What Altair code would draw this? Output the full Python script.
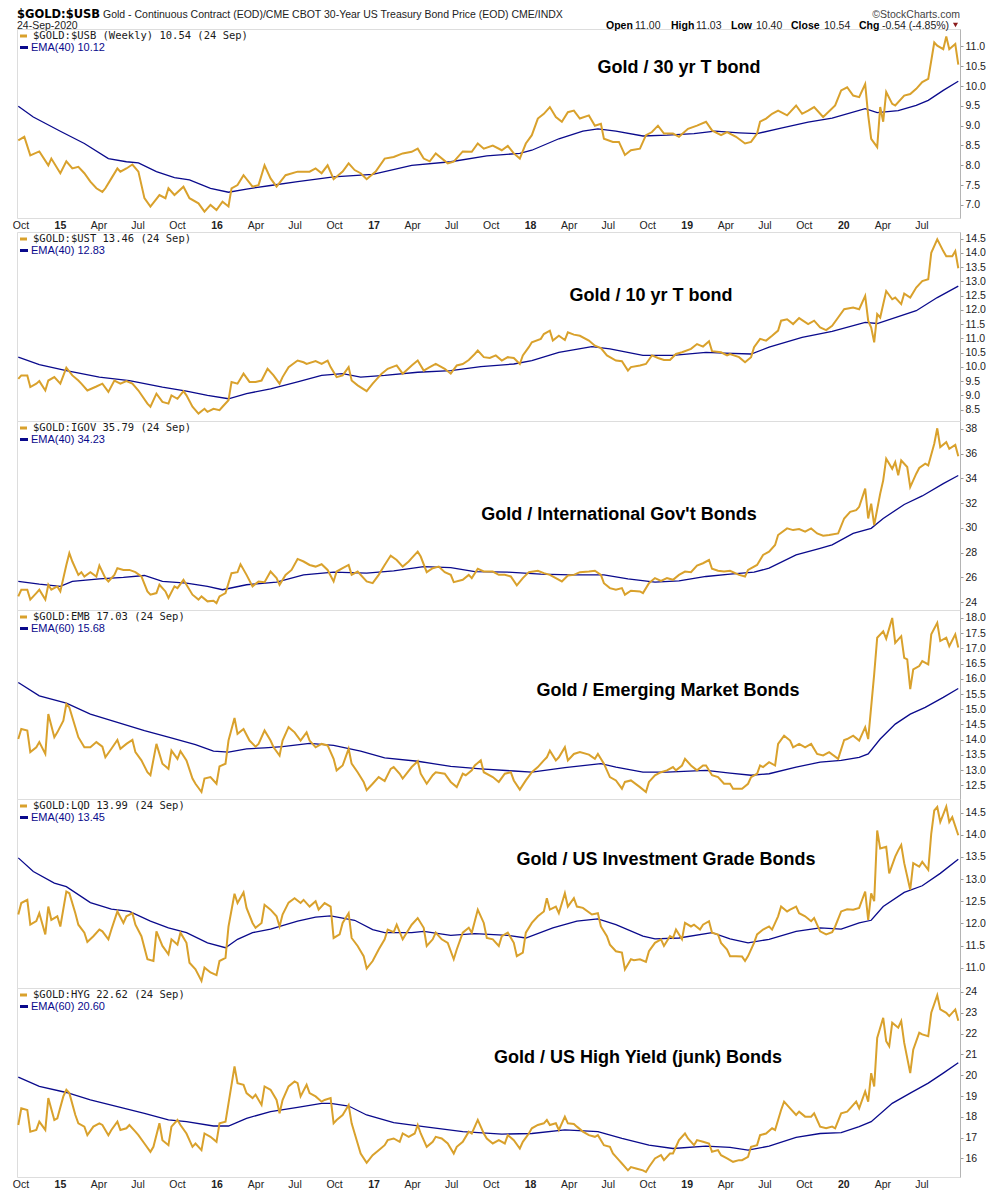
import altair as alt
import pandas as pd

START = "2014-09-26"   # first weekly bar; weeks below are counted from here

GOLD = "#d9a12c"
NAVY = "#0a0a8c"

# ---------------- Panel 1 : $GOLD:$USB ----------------
p1_gold_w = [0,2,4,7,10,11,14,16,18,20,22,24,26,28,29,31,33,34,36,38,40,42,44,47,49,50,52,55,57,60,62,64,66,68,70,71,73,75,78,80,82,84,86,89,93,97,99,101,103,105,108,110,112,114,116,119,122,125,128,131,133,135,137,139,143,145,148,151,153,155,158,161,163,165,167,169,171,173,175,177,179,181,183,185,187,190,192,194,195,198,200,202,204,207,209,211,213,215,218,220,223,226,229,231,234,236,239,242,244,246,247,249,251,253,256,259,261,263,265,268,272,274,276,278,280,282,283,284,286,287,288,289,291,292,295,297,299,301,303,305,306,308,309,310,312,313]
p1_gold_v = [8.63,8.72,8.25,8.35,8.0,8.17,7.8,8.1,7.92,7.96,7.8,7.59,7.42,7.33,7.42,7.67,7.92,7.84,7.92,8.02,7.84,7.17,6.96,7.25,7.17,7.42,7.25,7.46,7.17,7.04,6.83,7.0,6.87,7.08,6.96,7.42,7.5,7.75,7.46,7.5,8.0,7.67,7.46,7.75,7.84,7.84,7.92,7.8,8.0,7.65,7.84,8.05,7.88,7.8,7.65,7.84,8.17,8.21,8.3,8.34,8.42,8.17,8.1,8.3,8.05,8.09,8.35,8.34,8.55,8.42,8.5,8.38,8.49,8.3,8.17,8.55,8.76,9.18,9.3,9.47,9.22,9.1,9.34,9.38,9.18,9.26,9.0,9.05,8.67,8.59,8.59,8.26,8.38,8.42,8.76,8.84,9.0,8.8,8.8,8.72,8.92,9.0,9.1,8.88,8.76,8.84,8.72,8.55,8.59,8.8,9.1,9.18,9.3,9.38,9.26,9.51,9.3,9.38,9.47,9.22,9.51,9.89,9.97,9.76,9.72,10.05,9.26,8.67,8.46,9.47,9.1,9.85,9.55,9.51,9.76,9.8,9.93,10.1,10.18,11.1,11.02,10.93,11.25,10.93,11.06,10.54]
p1_ema_w = [0,5,14,22,30,36,40,46,52,57,64,70,76,84,93,105,118,131,144,156,167,171,180,188,193,199,208,216,225,232,240,246,254,263,271,282,286,293,299,303,308,313]
p1_ema_v = [9.49,9.22,8.86,8.55,8.17,8.09,8.06,7.84,7.69,7.63,7.42,7.32,7.4,7.49,7.59,7.71,7.77,8.0,8.09,8.24,8.3,8.38,8.67,8.86,8.92,8.86,8.74,8.76,8.8,8.86,8.82,8.8,8.94,9.09,9.19,9.43,9.33,9.38,9.51,9.64,9.89,10.12]

# ---------------- Panel 2 : $GOLD:$UST ----------------
p2_gold_w = [0,1,3,4,6,7,9,10,12,14,16,18,20,21,23,26,28,30,32,34,36,38,40,43,44,46,48,50,51,53,55,56,58,60,62,63,65,67,68,70,71,73,75,77,79,81,83,85,87,88,90,93,95,96,99,101,103,104,106,108,110,111,113,116,118,121,123,126,128,131,133,135,137,139,142,144,146,148,150,152,153,155,157,159,161,163,165,167,168,170,171,174,175,177,178,180,182,183,185,187,190,192,194,196,199,201,203,204,207,209,211,213,215,217,219,221,224,226,228,230,231,234,236,237,240,242,244,245,247,249,251,253,254,256,258,260,263,265,267,269,271,273,275,278,280,282,283,284,285,286,287,289,291,292,294,295,297,299,301,303,304,306,308,309,311,312,313]
p2_gold_v = [9.58,9.7,9.7,9.29,9.41,9.5,9.17,9.52,9.64,9.41,9.97,9.7,9.52,9.41,9.17,9.31,9.41,9.12,9.52,9.41,9.5,9.41,9.17,8.71,8.6,9.06,8.77,8.71,9.0,8.88,9.15,9.0,8.6,8.36,8.53,8.42,8.53,8.48,8.6,8.83,9.47,9.41,9.76,9.47,9.47,9.52,9.93,9.7,9.41,9.64,9.99,10.22,10.16,10.1,10.2,10.1,10.22,9.99,9.64,9.7,9.99,9.52,9.35,9.15,9.41,9.76,9.93,10.05,9.76,10.05,10.22,9.87,9.99,10.1,9.93,9.76,10.05,10.1,10.24,10.45,10.57,10.34,10.31,10.4,10.22,10.34,10.31,10.1,10.4,10.69,10.86,10.98,11.15,11.27,10.92,11.09,10.94,11.21,11.13,11.09,10.92,10.74,10.66,10.4,10.22,10.2,9.87,9.99,10.05,10.1,10.4,10.31,10.24,10.24,10.45,10.51,10.63,10.8,10.71,10.9,10.55,10.51,10.4,10.45,10.34,10.16,10.34,10.69,10.98,10.92,11.09,11.27,11.62,11.67,11.5,11.71,11.5,11.62,11.38,11.29,11.44,11.73,12.02,12.08,12.02,12.49,11.62,11.38,10.86,11.85,11.73,12.66,12.37,12.43,12.2,12.57,12.43,12.78,13.01,13.07,14.0,14.47,14.06,13.88,13.88,14.06,13.46]
p2_ema_w = [0,7,16,27,37,48,56,63,70,76,84,93,101,108,114,122,133,144,154,165,171,180,191,197,208,218,229,235,244,250,261,271,282,286,293,299,306,313]
p2_ema_v = [10.34,10.08,9.87,9.64,9.52,9.29,9.15,9.0,8.88,9.06,9.23,9.47,9.7,9.76,9.64,9.7,9.81,9.87,10.01,10.1,10.22,10.51,10.71,10.63,10.4,10.4,10.51,10.48,10.45,10.69,11.03,11.24,11.56,11.52,11.76,11.97,12.43,12.83]

# ---------------- Panel 3 : $GOLD:IGOV ----------------
p3_gold_w = [0,1,3,4,6,7,9,10,11,13,14,16,17,18,20,21,22,24,26,27,29,30,32,33,35,37,39,41,43,44,46,47,49,50,52,53,55,56,58,60,61,63,65,66,67,69,71,73,74,76,78,80,82,84,86,87,89,91,93,95,97,99,101,103,105,106,108,110,111,113,116,118,120,122,124,126,128,130,131,133,134,136,138,140,142,144,145,148,150,151,153,155,158,160,162,164,166,168,170,173,175,177,179,181,183,185,187,190,192,194,195,197,199,201,202,204,207,208,210,212,214,216,218,220,222,224,226,228,230,231,233,235,237,240,242,243,246,248,250,252,253,256,258,260,262,264,266,268,270,273,275,277,279,280,282,283,284,285,287,288,289,291,292,293,294,296,297,299,300,302,303,305,306,307,309,310,312,313]
p3_gold_v = [24.46,25.0,25.0,24.2,24.73,25.0,24.2,25.4,25.0,25.27,24.86,27.0,27.95,27.28,26.2,26.42,26.07,26.42,26.07,26.95,25.94,25.67,26.2,26.74,26.6,26.6,26.42,26.07,24.86,24.6,24.73,25.4,24.86,24.33,25.27,25.13,25.8,25.4,24.6,24.2,24.46,24.06,24.11,23.92,24.46,24.73,26.34,26.42,27.06,26.2,25.27,25.67,25.61,26.47,25.94,25.4,26.2,26.6,27.49,27.28,27.0,26.87,27.06,26.6,25.67,26.47,26.74,27.0,26.2,26.47,25.67,25.53,26.2,27.0,27.76,27.4,26.87,27.28,27.55,28.08,27.68,26.42,26.74,26.87,26.42,26.2,25.61,25.8,26.2,25.94,26.69,26.47,26.47,26.2,26.2,26.07,25.35,25.94,26.42,26.53,26.34,26.2,25.94,25.67,26.15,26.2,26.42,26.47,26.53,26.2,25.53,25.13,25.0,25.13,24.6,24.92,24.86,24.73,25.53,25.94,25.72,25.94,25.8,26.2,26.47,26.42,26.95,27.14,27.4,26.69,26.53,26.47,26.53,26.2,26.07,26.6,27.0,27.81,28.08,28.62,29.42,29.96,29.82,29.9,29.69,29.96,29.55,29.37,29.42,29.55,30.76,31.3,31.43,31.7,33.17,30.76,31.96,30.22,32.77,33.84,35.59,34.78,35.32,34.25,35.45,34.92,33.3,34.38,34.84,35.19,35.05,36.8,38.05,36.53,36.93,36.39,36.71,35.79]
p3_ema_w = [0,7,14,18,27,35,42,48,56,63,68,76,86,95,105,116,125,135,144,152,163,174,184,195,203,212,220,229,237,245,250,259,267,271,278,284,288,295,301,308,313]
p3_ema_v = [25.67,25.45,25.27,25.67,25.88,25.99,26.15,25.67,25.53,25.27,25.0,25.4,25.61,26.2,26.42,26.34,26.53,26.87,26.79,26.47,26.42,26.26,26.2,26.2,25.88,25.61,25.72,26.07,26.26,26.42,26.74,27.81,28.35,28.62,29.55,29.96,30.76,31.89,32.58,33.58,34.23]

# ---------------- Panel 4 : $GOLD:EMB ----------------
p4_gold_w = [0,1,3,4,6,7,9,10,12,13,15,16,17,19,20,22,24,26,28,29,31,33,34,36,38,39,41,43,44,46,48,50,51,53,54,56,58,59,61,62,64,66,67,69,70,72,73,75,77,79,80,82,84,85,87,88,90,92,94,96,97,99,101,103,105,106,108,110,111,113,115,116,118,120,122,124,125,127,128,131,133,134,136,138,139,142,144,146,148,149,151,152,154,155,158,160,162,164,165,167,169,171,173,175,176,177,179,180,182,183,185,187,190,192,193,195,197,199,201,202,204,207,209,210,212,214,216,218,219,221,222,224,226,228,229,231,233,235,237,238,241,243,244,246,247,248,250,252,253,255,257,258,260,262,264,266,268,270,273,275,276,278,280,282,283,285,286,288,289,291,292,294,295,296,297,298,300,301,303,304,306,307,309,310,312,313]
p4_gold_v = [14.02,14.35,14.3,13.59,13.75,13.92,13.53,14.84,14.08,14.24,14.62,15.17,15.06,14.41,14.08,13.75,13.75,13.92,13.77,13.42,13.7,13.99,13.7,13.86,13.99,13.59,13.32,12.93,12.83,13.86,13.21,13.04,13.64,13.37,13.62,13.32,12.72,12.55,12.28,12.72,12.77,12.55,13.12,13.21,13.97,14.71,14.19,14.35,13.97,13.77,13.86,14.3,13.97,13.75,13.48,13.97,14.41,14.24,13.97,14.24,13.97,13.75,13.86,13.81,13.37,12.99,13.15,13.7,13.21,12.93,12.61,12.34,12.55,12.77,12.64,13.04,13.1,12.88,12.72,13.1,13.29,12.88,12.55,12.83,12.93,12.88,12.61,12.44,12.88,12.83,12.99,13.15,13.32,12.93,12.77,12.61,12.88,12.93,12.66,12.36,12.66,12.93,13.1,13.32,13.42,13.64,13.32,13.42,13.75,13.32,13.53,13.59,13.51,13.37,13.53,13.21,12.77,12.66,12.39,12.61,12.66,12.44,12.28,12.61,12.83,12.93,12.99,13.1,12.99,13.15,13.37,13.15,12.99,13.15,13.15,12.83,12.77,12.55,12.55,12.39,12.39,12.55,12.77,12.88,13.15,13.1,13.26,13.15,13.86,14.13,13.97,13.75,13.86,13.75,13.86,13.53,13.48,13.59,13.37,13.99,14.02,14.13,13.97,14.41,14.02,16.15,17.35,17.56,17.32,18.0,17.18,17.4,16.69,16.64,15.66,16.31,16.42,16.58,16.47,17.46,17.84,17.24,17.35,17.07,17.46,17.03]
p4_ema_w = [0,7,16,24,33,42,50,59,65,70,76,82,88,97,105,114,122,133,144,154,165,171,182,194,199,208,216,229,237,244,250,259,267,274,280,283,287,292,297,302,308,313]
p4_ema_v = [15.88,15.44,15.2,14.84,14.57,14.3,14.08,13.84,13.62,13.59,13.7,13.73,13.77,13.88,13.81,13.62,13.4,13.29,13.12,13.04,12.97,12.93,13.08,13.21,13.1,12.93,12.93,12.99,12.9,12.83,12.88,13.1,13.26,13.32,13.42,13.53,14.02,14.51,14.84,15.06,15.39,15.68]

# ---------------- Panel 5 : $GOLD:LQD ----------------
p5_gold_w = [0,1,3,4,6,7,9,10,11,13,14,16,17,19,20,22,23,25,27,28,30,31,33,35,36,38,39,41,43,45,46,48,50,51,53,54,56,57,59,61,62,64,66,67,69,70,72,73,75,76,78,79,81,82,84,86,87,88,90,92,94,95,97,99,100,102,104,105,107,108,110,111,113,115,116,118,120,122,123,125,126,128,130,131,133,135,136,138,139,141,143,145,146,148,150,151,153,155,156,158,160,161,163,165,166,168,169,171,173,175,176,177,179,180,182,183,185,186,188,191,193,194,196,197,199,201,202,204,205,207,209,210,212,214,215,217,218,219,221,222,224,225,227,228,230,231,233,234,236,237,239,241,242,243,245,246,248,250,251,253,254,256,257,259,260,262,264,265,267,269,271,272,274,276,278,280,282,283,284,285,286,287,289,290,292,293,294,295,297,298,300,301,303,304,305,306,307,309,310,311,313]
p5_gold_v = [12.2,12.46,12.53,11.97,12.05,12.23,11.75,12.38,12.08,12.16,11.93,12.72,12.68,12.23,11.97,11.79,11.58,11.71,11.86,11.82,11.64,11.86,12.27,12.01,12.16,12.23,11.97,11.71,11.19,11.15,11.82,11.49,11.3,11.64,11.52,11.79,11.56,11.11,10.96,10.7,11.0,10.89,10.83,11.15,11.22,11.93,12.67,12.46,12.7,12.35,12.01,11.9,12.01,12.42,12.31,12.16,11.93,12.2,12.47,12.57,12.46,12.53,12.38,12.5,12.31,12.46,12.38,11.67,11.75,12.01,12.23,11.67,11.49,11.26,10.98,11.15,11.41,11.64,11.86,11.8,11.97,11.64,11.86,11.97,12.12,11.9,11.49,11.64,11.79,11.64,11.56,11.19,11.41,11.79,11.9,11.79,12.31,12.01,11.67,11.64,11.49,11.71,11.79,11.56,11.26,11.34,11.79,12.01,12.16,12.27,12.57,12.31,12.38,12.23,12.68,12.38,12.57,12.38,12.35,12.2,12.23,11.93,11.71,11.52,11.37,11.34,10.96,11.19,11.17,11.19,11.13,11.37,11.56,11.64,11.49,11.71,11.67,11.86,11.64,12.01,11.93,11.97,11.86,11.97,12.05,11.79,11.75,11.56,11.41,11.26,11.26,11.25,11.15,11.26,11.56,11.75,11.86,11.93,11.86,12.16,12.38,12.27,12.31,12.38,12.23,12.16,12.05,12.12,11.82,11.75,11.8,11.93,12.27,12.32,12.31,12.35,12.72,12.08,12.68,12.5,14.1,13.69,13.73,13.13,13.51,13.65,13.77,13.36,12.76,13.36,13.28,13.39,13.21,14.03,14.55,14.63,14.29,14.64,14.29,14.4,13.99]
p5_ema_w = [0,5,12,16,24,31,37,44,50,56,63,69,73,78,84,93,99,104,112,118,122,131,135,144,152,163,169,178,186,193,199,208,212,220,231,237,243,250,259,267,274,280,284,288,295,301,307,313]
p5_ema_v = [13.48,13.17,12.91,12.83,12.47,12.32,12.27,12.05,11.9,11.79,11.56,11.45,11.64,11.79,11.87,12.05,12.14,12.17,12.07,11.86,11.79,11.79,11.82,11.73,11.77,11.73,11.67,11.9,12.05,12.1,11.97,11.71,11.65,11.67,11.79,11.65,11.56,11.64,11.82,11.9,11.87,12.01,12.07,12.38,12.7,12.85,13.13,13.45]

# ---------------- Panel 6 : $GOLD:HYG ----------------
p6_gold_w = [0,1,3,4,6,7,9,10,12,13,15,16,17,19,20,22,23,25,27,28,30,31,33,34,36,37,39,40,42,44,45,47,48,50,51,53,54,56,58,59,61,62,64,66,67,69,70,72,73,75,76,78,79,81,82,84,86,87,88,90,92,93,94,96,97,99,101,102,104,105,106,108,110,111,113,114,116,118,120,122,123,125,127,128,130,132,133,134,136,138,139,141,143,145,146,148,150,151,153,155,156,158,160,162,163,165,167,168,170,171,173,175,176,177,179,180,182,183,185,186,188,190,192,193,195,197,198,200,201,203,204,206,208,209,210,212,214,215,217,218,220,222,223,225,226,228,230,231,233,234,236,238,240,241,243,244,246,247,249,251,252,254,255,257,259,260,262,264,265,267,269,271,272,274,276,277,279,280,282,283,284,285,286,288,289,290,291,293,294,295,297,298,300,301,303,304,306,307,309,310,312,313]
p6_gold_v = [17.61,18.41,18.33,17.29,17.37,17.77,17.37,18.9,17.85,17.93,18.98,19.3,19.14,18.09,17.69,17.53,17.12,17.53,17.69,17.61,17.12,17.37,17.77,17.37,17.45,17.61,17.29,17.12,16.72,16.32,16.56,17.69,16.88,16.64,17.53,17.85,17.61,17.2,16.56,16.72,16.4,17.2,17.04,16.8,17.69,17.77,18.65,20.42,19.62,19.54,19.14,18.9,19.06,18.57,19.46,19.3,18.81,18.17,18.81,19.46,19.7,19.62,18.98,19.54,19.14,18.98,18.73,18.81,18.9,17.69,17.85,18.09,18.57,17.69,16.72,16.24,15.79,16.16,16.4,16.64,16.88,16.96,16.8,17.2,17.04,17.2,17.61,17.2,16.56,16.8,17.04,16.96,16.72,16.24,16.56,16.8,17.29,17.2,17.85,17.2,16.96,16.72,16.88,16.72,17.12,16.88,16.48,16.8,17.2,17.45,17.61,17.69,17.85,17.61,17.69,17.37,18.01,17.69,17.66,17.53,17.29,17.12,17.04,17.12,16.64,16.56,16.24,15.92,15.76,15.43,15.59,15.51,15.43,15.35,15.59,16.0,16.16,15.92,16.24,16.24,16.88,17.2,16.96,16.64,16.88,16.8,16.72,16.32,16.4,16.16,16.0,15.84,15.92,15.92,16.08,16.56,16.64,17.12,17.2,17.45,17.37,18.33,18.73,18.41,18.09,18.25,18.01,18.01,18.17,17.53,17.45,17.53,17.45,18.17,18.25,18.41,18.73,18.41,19.22,18.73,20.1,19.46,21.79,22.76,21.63,21.39,22.52,22.28,22.6,21.55,20.1,21.23,22.04,21.96,21.87,23.0,23.84,23.16,23.0,22.84,23.16,22.62]
p6_ema_w = [0,7,16,24,33,42,50,56,65,70,76,84,93,101,104,110,116,125,135,148,161,171,182,193,201,210,218,229,237,243,250,259,267,274,280,284,291,297,303,308,313]
p6_ema_v = [19.91,19.46,19.17,18.81,18.49,18.17,17.85,17.77,17.56,17.56,17.93,18.25,18.46,18.65,18.65,18.52,18.09,17.72,17.53,17.29,17.17,17.2,17.37,17.29,16.96,16.64,16.48,16.59,16.53,16.4,16.59,17.01,17.2,17.24,17.53,17.77,18.65,19.14,19.62,20.1,20.6]

# ---------------- text ----------------
p1_ticks = [7.0, 7.5, 8.0, 8.5, 9.0, 9.5, 10.0, 10.5, 11.0]
p2_ticks = [8.5, 9.0, 9.5, 10.0, 10.5, 11.0, 11.5, 12.0, 12.5, 13.0, 13.5, 14.0, 14.5]
p3_ticks = [24, 26, 28, 30, 32, 34, 36, 38]
p4_ticks = [12.5, 13.0, 13.5, 14.0, 14.5, 15.0, 15.5, 16.0, 16.5, 17.0, 17.5, 18.0]
p5_ticks = [11.0, 11.5, 12.0, 12.5, 13.0, 13.5, 14.0, 14.5]
p6_ticks = [16, 17, 18, 19, 20, 21, 22, 23, 24]

legend_main = ["$GOLD:$USB (Weekly) 10.54 (24 Sep)", "$GOLD:$UST 13.46 (24 Sep)",
               "$GOLD:IGOV 35.79 (24 Sep)", "$GOLD:EMB 17.03 (24 Sep)",
               "$GOLD:LQD 13.99 (24 Sep)", "$GOLD:HYG 22.62 (24 Sep)"]
legend_ema = ["EMA(40) 10.12", "EMA(40) 12.83", "EMA(40) 34.23",
              "EMA(60) 15.68", "EMA(40) 13.45", "EMA(60) 20.60"]
panel_titles = ["Gold / 30 yr T bond", "Gold / 10 yr T bond", "Gold / International Gov't Bonds",
                "Gold / Emerging Market Bonds", "Gold / US Investment Grade Bonds",
                "Gold / US High Yield (junk) Bonds"]

W = 943
H = 189
SANS = "Liberation Sans, Arial, sans-serif"

start = pd.Timestamp(START)


def frame(weeks, vals):
    dates = [start + pd.Timedelta(days=7 * w) for w in weeks]
    return pd.DataFrame({"date": dates, "value": vals})


x_domain = [alt.DateTime(year=2014, month=9, date=23), alt.DateTime(year=2020, month=9, date=29)]
x_vals = []
for yr in range(2014, 2021):
    for m in (1, 4, 7, 10):
        if (yr == 2014 and m < 10) or (yr == 2020 and m > 7):
            continue
        x_vals.append(alt.DateTime(year=yr, month=m, date=1))


def x_enc(show_labels):
    if show_labels:
        ax = alt.Axis(values=x_vals, title=None, grid=False, ticks=False, domain=False,
                      labelExpr="month(datum.value) == 0 ? timeFormat(datum.value, '%y') : timeFormat(datum.value, '%b')",
                      labelFontWeight=alt.condition("month(datum.value) == 0", alt.value("bold"), alt.value("normal")),
                      labelFontSize=10.5, labelPadding=2, labelFlush=False, labelOverlap=False,
                      labelColor="#222222", labelFont=SANS)
    else:
        ax = None
    return alt.X("date:T", scale=alt.Scale(domain=x_domain), axis=ax)


def panel(gw, gv, ew, ev, dom, ticks, fmt, leg1, leg2, title, tx, ty, show_x):
    y = alt.Y("value:Q", scale=alt.Scale(domain=dom, zero=False, nice=False),
              axis=alt.Axis(orient="right", values=ticks, format=fmt, title=None, grid=False,
                            tickSize=3, labelPadding=2, labelOverlap=False, labelFontSize=10.5,
                            labelColor="#222222", labelFont=SANS, domainColor="#b4b4b4",
                            tickColor="#9a9a9a"))
    gold = alt.Chart(frame(gw, gv)).mark_line(color=GOLD, strokeWidth=2.0).encode(x=x_enc(show_x), y=y)
    ema = alt.Chart(frame(ew, ev)).mark_line(color=NAVY, strokeWidth=1.3).encode(x=x_enc(show_x), y=y)
    one = pd.DataFrame({"k": [0]})
    sw1 = alt.Chart(one).mark_rule(color=GOLD, strokeWidth=3).encode(
        x=alt.value(3), x2=alt.value(10), y=alt.value(7))
    sw2 = alt.Chart(one).mark_rule(color=NAVY, strokeWidth=3).encode(
        x=alt.value(3), x2=alt.value(11), y=alt.value(18.5))
    t1 = alt.Chart(one).mark_text(text=leg1, align="left", baseline="middle", fontSize=10.5,
                                  font="DejaVu Sans Mono", color="#1a1a1a").encode(
        x=alt.value(16), y=alt.value(7))
    t2 = alt.Chart(one).mark_text(text=leg2, align="left", baseline="middle", fontSize=11,
                                  font="Liberation Sans Narrow, Arial Narrow, Liberation Sans",
                                  color=NAVY).encode(x=alt.value(14), y=alt.value(18.5))
    big = alt.Chart(one).mark_text(text=title, align="center", baseline="middle", fontSize=18,
                                   fontWeight="bold", font=SANS, color="#000000").encode(
        x=alt.value(tx), y=alt.value(ty))
    return [ema, gold, sw1, sw2, t1, t2, big]


def txt(s, x, y, size=10.5, weight="normal", align="left", color="#222222", font=SANS):
    return alt.Chart(pd.DataFrame({"k": [0]})).mark_text(
        text=s, align=align, baseline="alphabetic", fontSize=size, fontWeight=weight,
        font=font, color=color).encode(x=alt.value(x), y=alt.value(y))


ROW1 = -11.5
ROW2 = -0.5
header = [
    txt("$GOLD:$USB", 0, ROW1, size=11.5, weight="bold", color="#000000", font="DejaVu Sans"),
    txt("Gold - Continuous Contract (EOD)/CME CBOT 30-Year US Treasury Bond Price (EOD) CME/INDX", 86, ROW1),
    txt("24-Sep-2020", 0, ROW2),
    txt("\u00a9StockCharts.com", 943, ROW1, align="right", color="#444444"),
    txt("Open", 589, ROW2, weight="bold", color="#000000"), txt("11.00", 618, ROW2),
    txt("High", 654, ROW2, weight="bold", color="#000000"), txt("11.03", 679, ROW2),
    txt("Low", 714, ROW2, weight="bold", color="#000000"), txt("10.40", 739, ROW2),
    txt("Close", 774, ROW2, weight="bold", color="#000000"), txt("10.54", 807, ROW2),
    txt("Chg", 842, ROW2, weight="bold", color="#000000"), txt("-0.54 (-4.85%)", 865, ROW2),
    alt.Chart(pd.DataFrame({"k": [0]})).mark_point(shape="triangle-down", filled=True, color="#8b1a1a",
                                                    size=26, opacity=1).encode(x=alt.value(938.5), y=alt.value(-4)),
]

specs = [
    (p1_gold_w, p1_gold_v, p1_ema_w, p1_ema_v, [6.67, 11.44], p1_ticks, ".1f", 662, 39),
    (p2_gold_w, p2_gold_v, p2_ema_w, p2_ema_v, [8.10, 14.73], p2_ticks, ".1f", 634, 64),
    (p3_gold_w, p3_gold_v, p3_ema_w, p3_ema_v, [23.36, 38.64], p3_ticks, "d", 602, 94),
    (p4_gold_w, p4_gold_v, p4_ema_w, p4_ema_v, [12.05, 18.26], p4_ticks, ".1f", 651, 81),
    (p5_gold_w, p5_gold_v, p5_ema_w, p5_ema_v, [10.54, 14.81], p5_ticks, ".1f", 649, 61),
    (p6_gold_w, p6_gold_v, p6_ema_w, p6_ema_v, [15.11, 24.19], p6_ticks, "d", 621, 70),
]

charts = []
for i, (gw, gv, ew, ev, dom, ticks, fmt, tx, ty) in enumerate(specs):
    layers = panel(gw, gv, ew, ev, dom, ticks, fmt, legend_main[i], legend_ema[i],
                   panel_titles[i], tx, ty, show_x=(i == 0 or i == 5))
    if i == 0:
        layers = layers + header
    charts.append(alt.layer(*layers).properties(width=W, height=H))

lower = alt.vconcat(*charts[1:], spacing=0, bounds="flush")
chart = alt.vconcat(charts[0], lower, spacing=14, bounds="flush").properties(
    padding={"left": 3, "top": 0, "right": 0, "bottom": 0}
).configure_view(stroke="#b4b4b4", strokeWidth=1).configure(background="white")

chart.save("out.html", embed_options={"renderer": "svg", "actions": False})
